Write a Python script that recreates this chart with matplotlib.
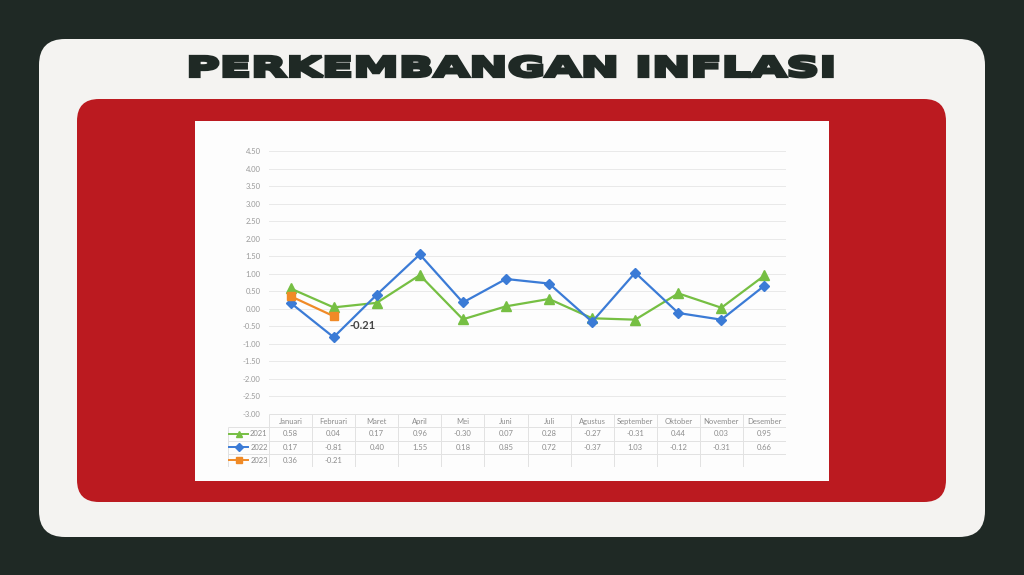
import numpy as np
import matplotlib
matplotlib.use("Agg")
import matplotlib.pyplot as plt
from matplotlib.patches import FancyBboxPatch, Rectangle
from matplotlib.patheffects import AbstractPathEffect
from matplotlib.transforms import Affine2D

# data (inflasi bulanan, %)
months = ['Januari', 'Februari', 'Maret', 'April', 'Mei', 'Juni', 'Juli',
          'Agustus', 'September', 'Oktober', 'November', 'Desember']
inf_2021 = [0.58, 0.04, 0.17, 0.96, -0.30, 0.07, 0.28, -0.27, -0.31, 0.44, 0.03, 0.95]
inf_2022 = [0.17, -0.81, 0.40, 1.55, 0.18, 0.85, 0.72, -0.37, 1.03, -0.12, -0.31, 0.66]
inf_2023 = [0.36, -0.21]
years = ['2021', '2022', '2023']
y_ticks = [-3.0, -2.5, -2.0, -1.5, -1.0, -0.5, 0.0, 0.5, 1.0, 1.5, 2.0, 2.5, 3.0, 3.5, 4.0, 4.5]
title = 'PERKEMBANGAN INFLASI'

colors = ['#76bf43', '#3b7bd6', '#f08a26']
markers = [('^', 6.5), ('D', 5), ('s', 5.5)]

W, H = 1024, 575
fig = plt.figure(figsize=(W / 100, H / 100), dpi=100)
fig.patch.set_facecolor('#1f2925')


def px(x0, y0, x1, y1):
    return [x0 / W, 1 - y1 / H, (x1 - x0) / W, (y1 - y0) / H]


class Squash(AbstractPathEffect):
    # flattens the glyphs vertically and thickens them (wide heavy display look)
    def __init__(self, sy, lw):
        super().__init__()
        self.sy = sy
        self.lw = lw

    def draw_path(self, renderer, gc, tpath, affine, rgbFace=None):
        gc0 = renderer.new_gc()
        gc0.copy_properties(gc)
        gc0.set_linewidth(self.lw)
        gc0.set_foreground(rgbFace)
        gc0.set_joinstyle('miter')
        renderer.draw_path(gc0, tpath, Affine2D().scale(1, self.sy) + affine, rgbFace)
        gc0.restore()


# background panels in pixel coordinates
bg = fig.add_axes([0, 0, 1, 1])
bg.set_xlim(0, W)
bg.set_ylim(H, 0)
bg.axis('off')


def rbox(x0, y0, x1, y1, r, color):
    bg.add_patch(FancyBboxPatch((x0 + r, y0 + r), x1 - x0 - 2 * r, y1 - y0 - 2 * r,
                                boxstyle=f'round,pad={r}', fc=color, ec='none'))


rbox(39, 39, 985, 537, 26, '#f4f3f1')
rbox(77, 99, 946, 502, 22, '#bb1a20')
bg.add_patch(Rectangle((195, 121), 634, 360, fc='#fdfdfd', ec='none'))

t = bg.text(512, 76.5, title, ha='center', va='baseline', fontsize=30,
            fontfamily='DejaVu Sans', fontweight='heavy', color='#1f2925')
fig.canvas.draw()
w = t.get_window_extent().width
t.set_fontsize(30 * 651 / w)
t.set_path_effects([Squash(0.6, 2.3)])

# line chart
ax = fig.add_axes(px(269, 151, 786, 414))
ax.set_facecolor('#fdfdfd')
x = np.arange(len(months))
for i, vals in enumerate([inf_2021, inf_2022, inf_2023]):
    m, ms = markers[i]
    ax.plot(x[:len(vals)], vals, color=colors[i], lw=1.6, marker=m, ms=ms,
            zorder=3 + i)
ax.annotate(f'{inf_2023[1]:.2f}', (1, inf_2023[1]), xytext=(11, -7),
            textcoords='offset points', ha='left', va='center', fontsize=8,
            fontweight='bold', color='#454545', fontfamily='Lato')
ax.set_xlim(-0.5, len(months) - 0.5)
ax.set_ylim(-3.0, 4.5)
ax.set_yticks(y_ticks)
ax.set_yticklabels([f'{v:.2f}' for v in y_ticks], fontsize=5.5, color='#9a9a9a',
                   fontfamily='Lato')
ax.set_xticks([])
ax.tick_params(axis='y', length=0, pad=6)
ax.grid(axis='y', color='#e9e9e9', lw=0.7)
ax.set_axisbelow(True)
for s in ax.spines.values():
    s.set_visible(False)

# data table under the chart
colw = (786 - 269) / len(months)
xl = -0.5 - (269 - 228) / colw
tb = fig.add_axes(px(228, 414, 786, 467))
tb.set_xlim(xl, len(months) - 0.5)
tb.set_ylim(4, 0)
tb.axis('off')
gc = '#e2e2e2'
tb.hlines(0, -0.5, len(months) - 0.5, color=gc, lw=0.7)
tb.hlines([1, 2, 3, 4], xl, len(months) - 0.5, color=gc, lw=0.7)
tb.vlines(np.arange(len(months) + 1) - 0.5, 0, 4, color=gc, lw=0.7)
tb.vlines(xl, 1, 4, color=gc, lw=0.7)
tc = '#8c8c8c'
for j, mname in enumerate(months):
    tb.text(j, 0.55, mname, ha='center', va='center', fontsize=5.5, color=tc,
            fontfamily='Lato')
for i, vals in enumerate([inf_2021, inf_2022, inf_2023]):
    yr = i + 1.5
    for j, v in enumerate(vals):
        tb.text(j, yr, f'{v:.2f}', ha='center', va='center', fontsize=5.5,
                color=tc, fontfamily='Lato')
    m, ms = markers[i]
    tb.plot([xl + 0.03, xl + 0.46], [yr, yr], color=colors[i], lw=1.4)
    tb.plot([xl + 0.245], [yr], color=colors[i], marker=m, ms=ms * 0.75)
    tb.text(-0.53, yr, years[i], ha='right', va='center', fontsize=5.5,
            color=tc, fontfamily='Lato')

fig.savefig('out.png', dpi=100, facecolor=fig.get_facecolor())
